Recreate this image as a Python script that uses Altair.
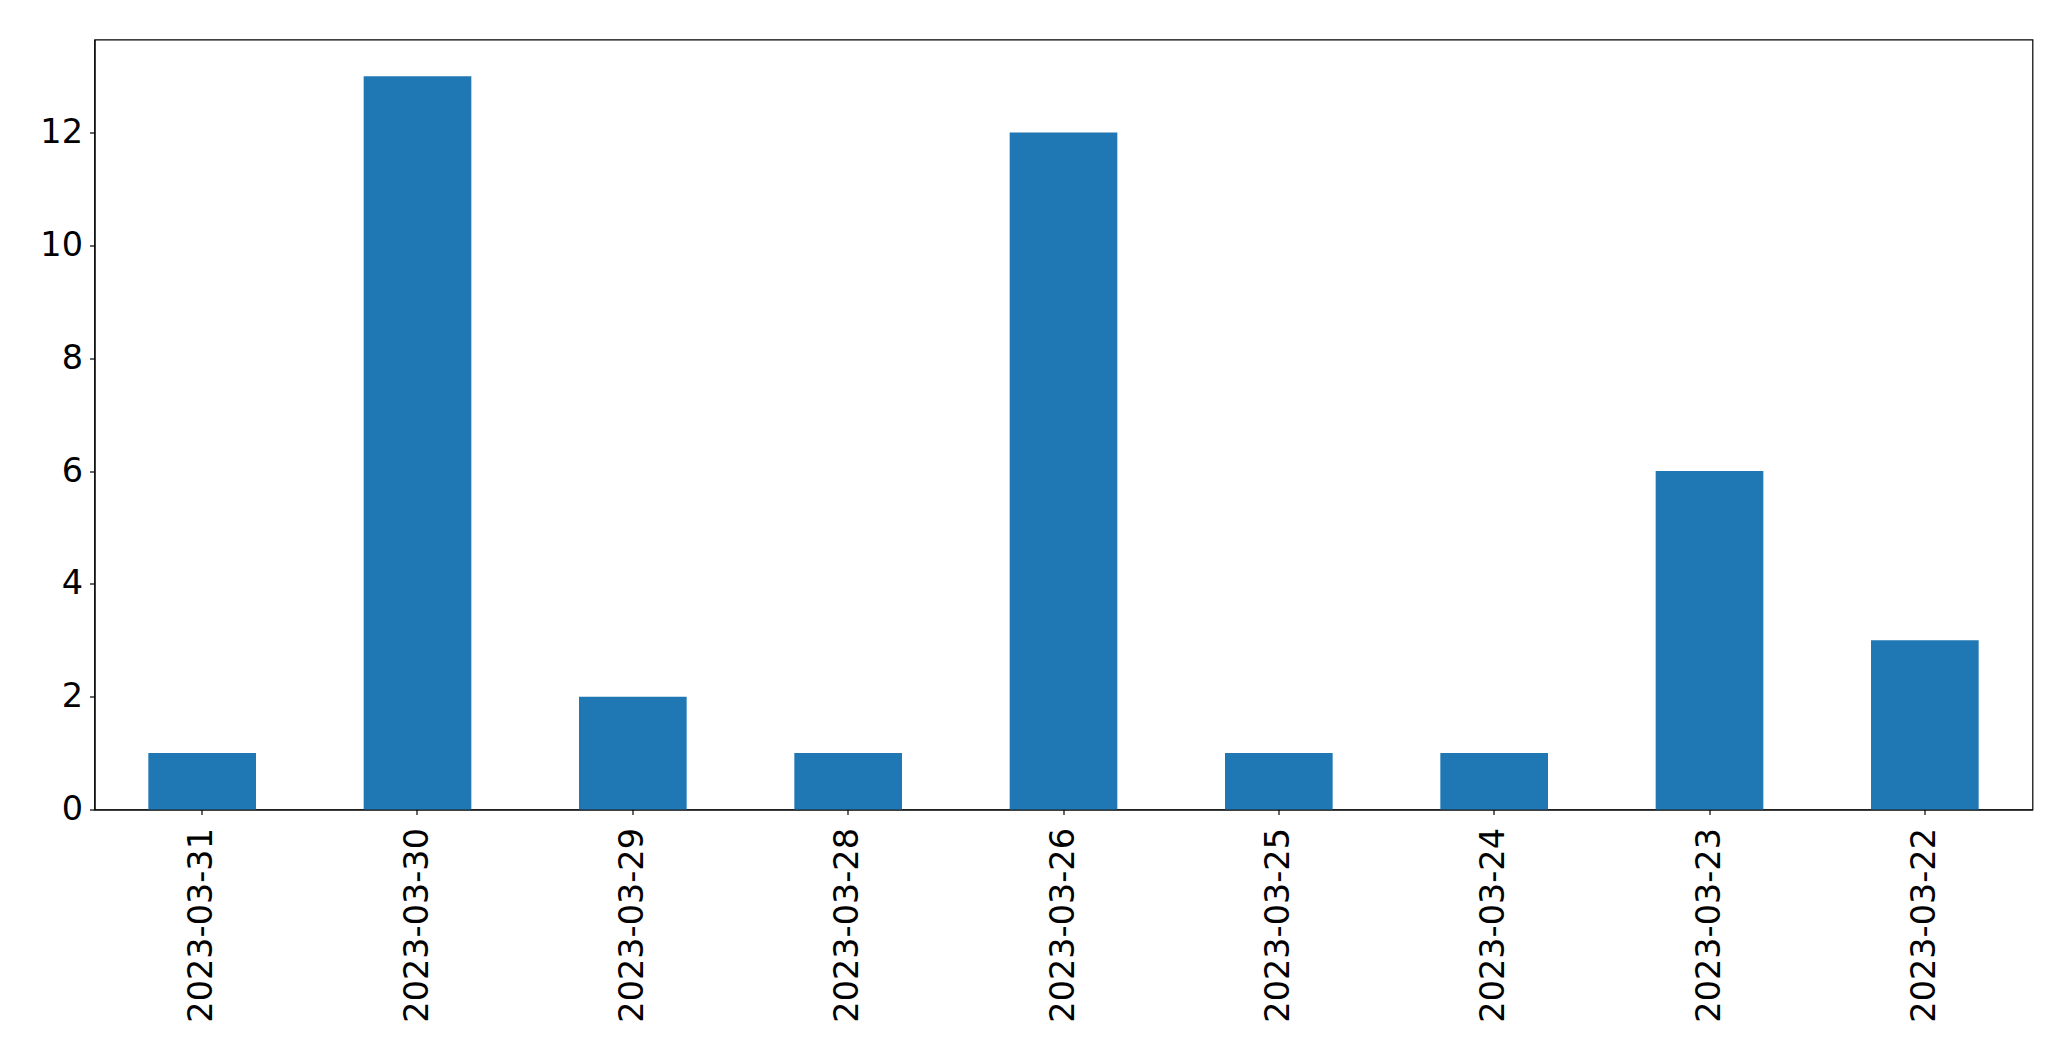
import altair as alt
import pandas as pd

dates = ["2023-03-31", "2023-03-30", "2023-03-29", "2023-03-28", "2023-03-26",
         "2023-03-25", "2023-03-24", "2023-03-23", "2023-03-22"]
counts = [1, 13, 2, 1, 12, 1, 1, 6, 3]
y_ticks = [0, 2, 4, 6, 8, 10, 12]

df = pd.DataFrame({"date": dates, "count": counts})

chart = alt.Chart(df).mark_bar(color="#1f77b4").encode(
    x=alt.X("date:N", sort=dates, title=None,
            scale=alt.Scale(paddingInner=0.5, paddingOuter=0.25),
            axis=alt.Axis(labelAngle=-90, labelFontSize=33.5, labelFont="DejaVu Sans",
                          labelColor="black", tickColor="black", tickSize=5,
                          labelPadding=13, labelLimit=0, domainColor="black",
                          domainWidth=1.2, tickWidth=1.2)),
    y=alt.Y("count:Q", title=None,
            scale=alt.Scale(domain=[0, 13.65], nice=False, zero=True),
            axis=alt.Axis(values=y_ticks, labelFontSize=33.5, labelFont="DejaVu Sans",
                          labelColor="black", tickColor="black", tickSize=5,
                          labelPadding=7, domainColor="black", domainWidth=1.2,
                          tickWidth=1.2, grid=False)),
).properties(
    width=1938, height=770,
    autosize=alt.AutoSizeParams(type="none"),
    padding={"left": 86.5, "top": 31.5, "right": 20, "bottom": 230},
).configure_view(
    stroke="black", strokeWidth=1.2
).configure_axis(grid=False)

chart.save("out.html", embed_options={"renderer": "svg", "actions": False})
